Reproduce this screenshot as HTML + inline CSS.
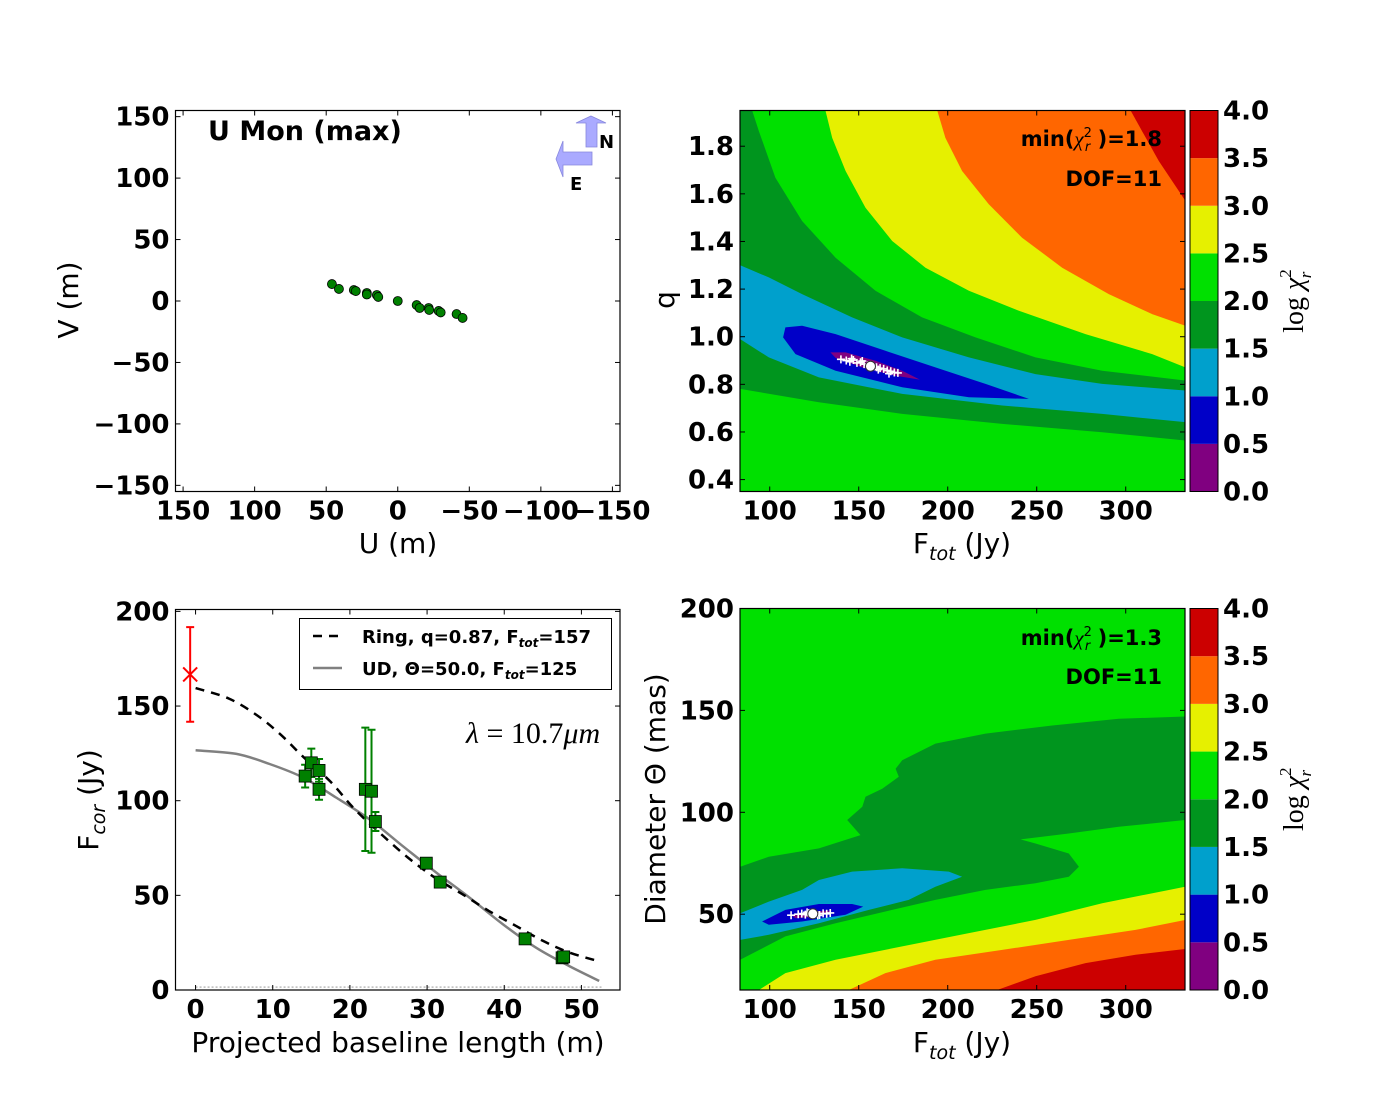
<!DOCTYPE html>
<html><head><meta charset="utf-8"><title>U Mon (max)</title>
<style>
html,body{margin:0;padding:0;background:#fff;}
svg{display:block;font-family:"DejaVu Sans","Liberation Sans",sans-serif;}
.tk{font-weight:bold;font-size:26px;}
.lab{font-size:28px;}
</style></head>
<body>
<svg id="fig" xmlns="http://www.w3.org/2000/svg" width="1400" height="1100" viewBox="0 0 1400 1100">
<rect width="1400" height="1100" fill="#fff"/>
</svg>
<script>
// ---------- DATA ----------
const uvU = [46,41.1,30.7,29.3,21.6,21.6,14.6,13.6,0,-13.2,-15.3,-21.6,-22,-28.6,-30,-41.1,-45.3];
const uvV = [13.8,9.8,8.9,8.1,6.5,5.3,4.9,3.3,0,-3.3,-5.7,-5.7,-7.3,-8.1,-9.3,-10.6,-13.8];
const uvTicks = [150,100,50,0,-50,-100,-150];
const blLen = [14.2,15.0,16.0,16.0,22.0,22.8,23.3,29.9,31.7,42.7,47.5,47.7];
const fCor = [113,120,116,106,106,105,89,67,57,27,17,17.5];
const fErr = [6,7.5,6,5.5,32.6,32.5,5,2,2,2,2,2];
const totB = [-0.7]; const totF = [166.7]; const totErr = [25];
const ringB = [0,4.3,8,11,14,17.5,20.5,24,27.5,31,34.5,38,41.5,45,48.5,52.4];
const ringF = [159.5,154,145,135,123,110,96,82.5,70,59.4,50.8,41.8,33.9,26,19.7,15];
const udB = [0,5.3,9.6,13.9,18.2,22.5,26.8,31.2,35.5,39.8,44.1,48.4,52.3];
const udF = [126.6,124.7,119.4,112.3,101.7,90.3,76.2,62,48.8,34.8,22.4,12.7,4.8];
const blTicks = [0,10,20,30,40,50];
const fcTicks = [0,50,100,150,200];
const levelColors = ['#800080','#0000c8','#00a0cc','#00951e','#00e000','#e6f000','#ff6600','#cc0000'];
const cbTicks = ['0.0','0.5','1.0','1.5','2.0','2.5','3.0','3.5','4.0'];
const ringDark = [[90.1,1.951],[93.9,1.863],[103.2,1.668],[118.2,1.486],[137,1.332],[159.4,1.193],[185.6,1.081],[215.6,0.997],[249.3,0.913],[286.8,0.857],[333.6,0.816],[333.6,0.564],[286.8,0.599],[230.6,0.634],[174.4,0.676],[127.6,0.725],[83.4,0.781],[83.4,1.951]];
const ringLBlue = [[83.4,1.300],[99.5,1.249],[118.2,1.179],[146.3,1.081],[174.4,0.997],[211.9,0.913],[249.3,0.843],[286.8,0.802],[333.6,0.774],[333.6,0.641],[286.8,0.676],[230.6,0.711],[174.4,0.760],[127.6,0.829],[99.5,0.913],[83.4,0.990]];
const ringBlue = [[108.8,1.039],[118.2,1.046],[137,1.011],[165,0.941],[193.1,0.871],[221.2,0.802],[245.6,0.739],[211.9,0.746],[174.4,0.788],[137,0.857],[114.5,0.927],[107.5,0.997]];
const ringPurple = [[134.1,0.934],[142.6,0.934],[159.4,0.899],[174.4,0.857],[184.3,0.820],[170.7,0.836],[152,0.871],[137,0.911]];
const ringYellow = [[131.3,1.951],[135.1,1.835],[142.6,1.696],[153.8,1.542],[168.8,1.402],[187.5,1.290],[211.9,1.193],[240,1.109],[277.4,1.011],[314.9,0.927],[333.6,0.871],[333.6,1.951]];
const ringOrange = [[194.1,1.951],[198.7,1.835],[208.1,1.696],[223.1,1.556],[241.8,1.416],[264.3,1.290],[290.5,1.179],[314.9,1.095],[333.6,1.046],[333.6,1.951]];
const ringRed = [[302.7,1.951],[309.2,1.863],[318.6,1.738],[333.6,1.570],[333.6,1.951]];
const ringBestF = [156.6]; const ringBestQ = [0.876];
const ringMcF = [140,143,145,147,149,151,153,155,158,160,162,164,166,168,170,172,146,152,161,167];
const ringMcQ = [0.905,0.9,0.895,0.902,0.89,0.893,0.885,0.88,0.878,0.872,0.868,0.865,0.858,0.855,0.85,0.848,0.908,0.898,0.862,0.845];
const fTicks = [100,150,200,250,300];
const qTicks = [0.4,0.6,0.8,1.0,1.2,1.4,1.6,1.8];
const udDark = [[83.4,73.3],[99.5,78.2],[127.6,82.3],[151,88.8],[143.5,96.2],[152,102.7],[153.8,107.6],[163.2,111.6],[172.5,117.4],[170.7,121.4],[174.4,125.5],[193.1,133.7],[221.2,138.6],[258.7,142.6],[296.1,145.9],[333.6,147.0],[333.6,96.2],[296.1,92.9],[268,89.6],[240.9,86.7],[249.3,84.7],[268,79.8],[273.7,73.3],[268,68.4],[249.3,65.2],[221.2,61.9],[193.1,57.0],[165,51.3],[137,45.6],[108.8,39.1],[83.4,27.6]];
const udLBlue = [[83.4,50.5],[99.5,56.2],[118.2,61.9],[127.6,66.8],[146.3,70.9],[174.4,72.5],[200.6,70.9],[208.1,68.4],[193.1,63.5],[178.1,57.0],[155.7,52.1],[127.6,45.6],[99.5,39.9],[83.4,37.4]];
const udBlue = [[95.7,46.4],[108.8,52.1],[127.6,55.0],[146.3,55.0],[152.5,53.7],[142.6,49.7],[118.2,46.4],[99.5,44.8]];
const udPurple = [[111.7,49.7],[123.8,51.3],[135.1,51.8],[127.6,48.9],[114.5,48.0]];
const udYellow = [[93.9,12.8],[108.8,21.1],[137,27.6],[174.4,34.2],[211.9,40.7],[249.3,47.2],[286.8,55.4],[333.6,63.5],[333.6,12.8]];
const udOrange = [[144.4,12.8],[165,21.1],[193.1,27.6],[230.6,32.5],[268,37.4],[305.5,42.3],[333.6,47.2],[333.6,12.8]];
const udRed = [[227.8,12.8],[249.3,19.5],[277.4,26.0],[305.5,30.1],[333.6,32.9],[333.6,12.8]];
const udBestF = [124.2]; const udBestD = [50.2];
const udMcF = [112,116,118,120,122,126,128,130,132,134,121,127];
const udMcD = [49.5,50,50.3,49.8,50.5,50.1,49.6,50.4,50.2,50.6,50.9,49.4];
const dTicks = [50,100,150,200];

// ---------- HELPERS ----------
const NS = 'http://www.w3.org/2000/svg';
const svg = document.getElementById('fig');
function mk(tag, attrs, parent) {
  const e = document.createElementNS(NS, tag);
  for (const k in attrs) e.setAttribute(k, attrs[k]);
  (parent || svg).appendChild(e);
  return e;
}
function lin(d0, d1, r0, r1) { return v => r0 + (v - d0) * (r1 - r0) / (d1 - d0); }
function smooth(P) {
  let d = 'M' + P[0][0].toFixed(1) + ',' + P[0][1].toFixed(1);
  for (let i = 0; i < P.length - 1; i++) {
    const p0 = P[Math.max(i-1,0)], p1 = P[i], p2 = P[i+1], p3 = P[Math.min(i+2,P.length-1)];
    const c1 = [p1[0]+(p2[0]-p0[0])/6, p1[1]+(p2[1]-p0[1])/6];
    const c2 = [p2[0]-(p3[0]-p1[0])/6, p2[1]-(p3[1]-p1[1])/6];
    d += 'C' + c1[0].toFixed(1)+','+c1[1].toFixed(1)+' '+c2[0].toFixed(1)+','+c2[1].toFixed(1)+' '+p2[0].toFixed(1)+','+p2[1].toFixed(1);
  }
  return d;
}

const P1 = {l:175.5, r:620, t:110.5, b:491.5};
const P2 = {l:740, r:1185, t:110.5, b:491.5};
const P3 = {l:175.5, r:620, t:609.5, b:990};
const P4 = {l:740, r:1185, t:608.5, b:990};
const x1 = lin(155.3, -155.3, P1.l, P1.r), y1 = lin(-155, 155, P1.b, P1.t);
const x2 = lin(83.3, 333.3, P2.l, P2.r), y2 = lin(0.35, 1.95, P2.b, P2.t);
const x3 = lin(-2.6, 55, P3.l, P3.r), y3 = lin(0, 201, P3.b, P3.t);
const x4 = lin(83.3, 333.3, P4.l, P4.r), y4 = lin(12.8, 200, P4.b, P4.t);

function frame(P, name) {
  const r = mk('rect', {x:P.l, y:P.t, width:P.r-P.l, height:P.b-P.t, fill:'none', stroke:'#000', 'stroke-width':1.2});
  
  
}
function xticks(P, vals, xs, labels, name) {
  const g = mk('g', {});
  
  
  vals.forEach((v, i) => {
    const X = xs(v);
    mk('line', {x1:X, x2:X, y1:P.b, y2:P.b-5, stroke:'#000', 'stroke-width':1}, g);
    mk('line', {x1:X, x2:X, y1:P.t, y2:P.t+5, stroke:'#000', 'stroke-width':1}, g);
    const t = mk('text', {x:X, y:P.b+28, 'text-anchor':'middle', class:'tk'}, g);
    t.textContent = labels ? labels[i] : String(v);
    
    
  });
}
function yticks(P, vals, ys, fmt, name) {
  const g = mk('g', {});
  
  
  vals.forEach(v => {
    const Y = ys(v);
    mk('line', {x1:P.l, x2:P.l+5, y1:Y, y2:Y, stroke:'#000', 'stroke-width':1}, g);
    mk('line', {x1:P.r, x2:P.r-5, y1:Y, y2:Y, stroke:'#000', 'stroke-width':1}, g);
    const t = mk('text', {x:P.l-6, y:Y+9, 'text-anchor':'end', class:'tk'}, g);
    t.textContent = fmt(v);
    
    
  });
}
function clip(P, id) {
  const d = mk('defs', {});
  const c = mk('clipPath', {id:id}, d);
  mk('rect', {x:P.l, y:P.t, width:P.r-P.l, height:P.b-P.t}, c);
}
function poly(pts, xs, ys, fill, g) {
  const s = pts.map(p => xs(p[0]).toFixed(1) + ',' + ys(p[1]).toFixed(1)).join(' ');
  return mk('polygon', {points:s, fill:fill}, g);
}
function colorbar(P, name) {
  const g = mk('g', {});
  
  
  const cy = lin(0, 4, P.b, P.t);
  levelColors.forEach((c, i) => {
    const r = mk('rect', {x:1190, y:cy((i+1)*0.5), width:28, height:cy(i*0.5)-cy((i+1)*0.5), fill:c}, g);
    
    
  });
  mk('rect', {x:1190, y:P.t, width:28, height:P.b-P.t, fill:'none', stroke:'#000', 'stroke-width':1}, g);
  cbTicks.forEach(tl => {
    const Y = cy(parseFloat(tl));
    const t = mk('text', {x:1223, y:Y+9, class:'tk'}, g);
    t.textContent = tl;
    
    
  });
  const lt = mk('text', {x:0, y:0, 'font-family':'"Liberation Serif",serif', 'font-size':28, transform:'translate(1303,' + ((P.t+P.b)/2) + ') rotate(-90)', 'text-anchor':'middle'}, g);
  
  
  lt.innerHTML = 'log <tspan font-style="italic">χ</tspan><tspan font-size="17" dy="-12">2</tspan><tspan font-size="17" font-style="italic" dx="-9" dy="20">r</tspan>';
}
function label(x, y, txt, rot, name, html) {
  const t = mk('text', {x:0, y:0, class:'lab', 'text-anchor':'middle', transform:'translate(' + x + ',' + y + ')' + (rot ? ' rotate(-90)' : '')});
  if (html) t.innerHTML = txt; else t.textContent = txt;
  
  
}
function fmtNeg(v) { return v < 0 ? '\u2212' + Math.abs(v) : String(v); }

// ---------- PANEL 1 ----------
const g1 = mk('g', {});


uvU.forEach((u, i) => {
  const c = mk('circle', {cx:x1(u), cy:y1(uvV[i]), r:4.5, fill:'#008000', stroke:'#000', 'stroke-width':0.8}, g1);
  
  
});
frame(P1, 'uv-plot-frame');
xticks(P1, uvTicks, x1, uvTicks.map(fmtNeg), 'u-axis-ticks');
yticks(P1, uvTicks, y1, fmtNeg, 'v-axis-ticks');
label(398, 553, 'U (m)', false, 'u-axis-title');
label(78, 300, 'V (m)', true, 'v-axis-title');
(function(){
  const t = mk('text', {x:208, y:140, 'font-weight':'bold', 'font-size':27});
  t.textContent = 'U Mon (max)';
  
  
  const a1 = mk('polygon', {points:'591,116 606,123 597,123 597,147 586,147 586,123 576,123', fill:'#aaaaff', stroke:'#8888dd', 'stroke-width':0.8});
  
  
  const a2 = mk('polygon', {points:'556,159 563,141 563,152 592,152 592,165 563,165 563,177', fill:'#aaaaff', stroke:'#8888dd', 'stroke-width':0.8});
  
  
  const n = mk('text', {x:599, y:148, 'font-weight':'bold', 'font-size':18});
  n.textContent = 'N';
  
  
  const e = mk('text', {x:570, y:190, 'font-weight':'bold', 'font-size':18});
  e.textContent = 'E';
  
  
})();

// ---------- CONTOUR PANELS ----------
function contourPanel(P, xs, ys, id, layers, bestF, bestY, mcF, mcY, name) {
  clip(P, id);
  const g = mk('g', {'clip-path':'url(#' + id + ')'});
  
  
  const bg = mk('rect', {x:P.l, y:P.t, width:P.r-P.l, height:P.b-P.t, fill:levelColors[4]}, g);
  
  
  layers.forEach(L => {
    const p = poly(L[0], xs, ys, levelColors[L[1]], g);
    
    
  });
  mcF.forEach((f, i) => {
    const X = xs(f), Y = ys(mcY[i]);
    const m = mk('path', {d:'M' + (X-4) + ',' + Y + 'h8M' + X + ',' + (Y-4) + 'v8', stroke:'#fff', 'stroke-width':1.6}, g);
    
    
  });
  const b = mk('circle', {cx:xs(bestF[0]), cy:ys(bestY[0]), r:5, fill:'#fff', stroke:'#333', 'stroke-width':1}, g);
  
  
}
contourPanel(P2, x2, y2, 'c2', [[ringDark,3],[ringLBlue,2],[ringBlue,1],[ringPurple,0],[ringYellow,5],[ringOrange,6],[ringRed,7]], ringBestF, ringBestQ, ringMcF, ringMcQ, 'ring-chi2-map');
frame(P2, 'ring-map-frame');
xticks(P2, fTicks, x2, null, 'ftot-axis-ticks');
yticks(P2, qTicks, y2, v => v.toFixed(1), 'q-axis-ticks');
colorbar(P2, 'ring-colorbar');
label(962, 553, 'F<tspan font-style="italic" font-size="19" dy="7">tot</tspan><tspan dy="-7"> (Jy)</tspan>', false, 'ring-ftot-axis-title', true);
label(674, 300, 'q', true, 'q-axis-title');

contourPanel(P4, x4, y4, 'c4', [[udDark,3],[udLBlue,2],[udBlue,1],[udPurple,0],[udYellow,5],[udOrange,6],[udRed,7]], udBestF, udBestD, udMcF, udMcD, 'ud-chi2-map');
frame(P4, 'ud-map-frame');
xticks(P4, fTicks, x4, null, 'ud-ftot-axis-ticks');
yticks(P4, dTicks, y4, v => String(v), 'diameter-axis-ticks');
colorbar(P4, 'ud-colorbar');
label(962, 1052, 'F<tspan font-style="italic" font-size="19" dy="7">tot</tspan><tspan dy="-7"> (Jy)</tspan>', false, 'ud-ftot-axis-title', true);
label(665, 799, 'Diameter Θ (mas)', true, 'diameter-axis-title');

function annot(y, txt, name, html) {
  const t = mk('text', {x:1162, y:y, 'text-anchor':'end', 'font-weight':'bold', 'font-size':21});
  if (html) t.innerHTML = txt; else t.textContent = txt;
  
  
}
annot(146, 'min(<tspan font-family="Liberation Serif,serif" font-weight="normal" font-style="italic">χ</tspan><tspan font-size="13" font-weight="normal" dy="-9">2</tspan><tspan font-size="13" font-weight="normal" font-style="italic" dx="-7" dy="14">r</tspan><tspan dy="-5"> )=1.8</tspan>', 'ring-min-chi2', true);
annot(186, 'DOF=11', 'ring-dof');
annot(645, 'min(<tspan font-family="Liberation Serif,serif" font-weight="normal" font-style="italic">χ</tspan><tspan font-size="13" font-weight="normal" dy="-9">2</tspan><tspan font-size="13" font-weight="normal" font-style="italic" dx="-7" dy="14">r</tspan><tspan dy="-5"> )=1.3</tspan>', 'ud-min-chi2', true);
annot(684, 'DOF=11', 'ud-dof');

// ---------- PANEL 3 ----------
clip(P3, 'c3');
const g3 = mk('g', {'clip-path':'url(#c3)'});


const zl = mk('line', {x1:x3(0), x2:x3(52.6), y1:y3(1.5), y2:y3(1.5), stroke:'#bbb', 'stroke-width':1.5, 'stroke-dasharray':'2,2'}, g3);


const ud = mk('path', {d:smooth(udB.map((b,i)=>[x3(b),y3(udF[i])])), fill:'none', stroke:'#808080', 'stroke-width':2.5}, g3);


const rg = mk('path', {d:smooth(ringB.map((b,i)=>[x3(b),y3(ringF[i])])), fill:'none', stroke:'#000', 'stroke-width':2.5, 'stroke-dasharray':'9,7'}, g3);


blLen.forEach((b, i) => {
  const X = x3(b), Y0 = y3(fCor[i]-fErr[i]), Y1 = y3(fCor[i]+fErr[i]);
  const e = mk('path', {d:'M'+X+','+Y0+'V'+Y1+'M'+(X-4)+','+Y0+'h8M'+(X-4)+','+Y1+'h8', stroke:'#008000', 'stroke-width':2, fill:'none'}, g3);
  
  
});
blLen.forEach((b, i) => {
  const s = mk('rect', {x:x3(b)-6, y:y3(fCor[i])-6, width:12, height:12, fill:'#008000', stroke:'#000', 'stroke-width':0.8}, g3);
  
  
});
totB.forEach((b, i) => {
  const X = x3(b), Y = y3(totF[i]), Y0 = y3(totF[i]-totErr[i]), Y1 = y3(totF[i]+totErr[i]);
  const e = mk('path', {d:'M'+X+','+Y0+'V'+Y1+'M'+(X-4)+','+Y0+'h8M'+(X-4)+','+Y1+'h8M'+(X-7)+','+(Y-7)+'l14,14M'+(X-7)+','+(Y+7)+'l14,-14', stroke:'#ff0000', 'stroke-width':2, fill:'none'}, g3);
  
  
});
frame(P3, 'flux-plot-frame');
xticks(P3, blTicks, x3, null, 'baseline-axis-ticks');
yticks(P3, fcTicks, y3, v => String(v), 'flux-axis-ticks');
label(398, 1052, 'Projected baseline length (m)', false, 'baseline-axis-title');
label(98, 800, 'F<tspan font-style="italic" font-size="19" dy="7">cor</tspan><tspan dy="-7"> (Jy)</tspan>', true, 'fcor-axis-title', true);
(function(){
  const t = mk('text', {x:466, y:743, 'font-family':'"Liberation Serif",serif', 'font-size':30});
  t.innerHTML = '<tspan font-style="italic">λ</tspan> = 10.7<tspan font-style="italic">μm</tspan>';
  
  
  const lg = mk('g', {});
  
  
  mk('rect', {x:299.5, y:618.5, width:312, height:71, fill:'#fff', stroke:'#000', 'stroke-width':1}, lg);
  const l1 = mk('line', {x1:313, x2:342, y1:636, y2:636, stroke:'#000', 'stroke-width':2.5, 'stroke-dasharray':'9,7'}, lg);
  
  
  const l2 = mk('line', {x1:313, x2:342, y1:668, y2:668, stroke:'#808080', 'stroke-width':2.5}, lg);
  
  
  const t1 = mk('text', {x:362, y:643, 'font-weight':'bold', 'font-size':18}, lg);
  t1.innerHTML = 'Ring, q=0.87, F<tspan font-style="italic" font-size="12" dy="4">tot</tspan><tspan dy="-4">=157</tspan>';
  
  
  const t2 = mk('text', {x:362, y:675, 'font-weight':'bold', 'font-size':18}, lg);
  t2.innerHTML = 'UD, Θ=50.0, F<tspan font-style="italic" font-size="12" dy="4">tot</tspan><tspan dy="-4">=125</tspan>';
  
  
})();
</script>
</body></html>
